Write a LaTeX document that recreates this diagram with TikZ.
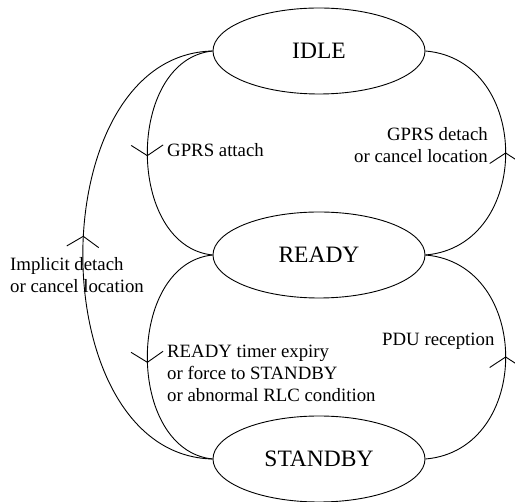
\documentclass[tikz,border=0pt]{standalone}
\usepackage{fontspec}
\setmainfont{Liberation Serif}
\usetikzlibrary{shapes.geometric,decorations.markings}
\tikzset{
  statebox/.style={ellipse, draw, line width=0.9pt, minimum width=212pt, minimum height=86pt, inner sep=0pt, font=\fontsize{23.5}{28}\selectfont},
  lbl/.style={inner sep=0pt, font=\fontsize{18.8}{22.4}\selectfont},
  trans/.style={line width=0.9pt, postaction={decorate}, decoration={markings, mark=at position #1 with {\draw[line width=0.9pt] (-10.5pt,16pt) -- (0pt,0pt) -- (-10.5pt,-16pt);}}},
  trans/.default=0.5
}
\begin{document}
\begin{tikzpicture}[x=1pt,y=-1pt]
\useasboundingbox (0,0) rectangle (515,502);
\node[statebox] (idle) at (319,51) {IDLE};
\node[statebox] (ready) at (319,255) {READY};
\node[statebox] (standby) at (319,459) {STANDBY};
% transitions
\draw[trans=0.51] (idle.west) .. controls +(-87,9) and +(-87,-9) .. (ready.west);
\draw[trans] (ready.east) .. controls +(107,-9) and +(107,9) .. (idle.east);
\draw[trans=0.52] (ready.west) .. controls +(-87,9) and +(-87,-9) .. (standby.west);
\draw[trans] (standby.east) .. controls +(107,-9) and +(107,9) .. (ready.east);
\draw[trans=0.535] (standby.west) .. controls +(-173,-4) and +(-173,4) .. (idle.west);
% labels
\node[lbl, anchor=base west] (la) at (167,157) {GPRS attach};
\node[lbl, anchor=base east, align=right] (ld) at (488,163) {GPRS detach\\or cancel location};
\node[lbl, anchor=base west, align=left] (li) at (10,293) {Implicit detach\\or cancel location};
\node[lbl, anchor=base west, align=left] (lr) at (167,402) {READY timer expiry\\or force to STANDBY\\or abnormal RLC condition};
\node[lbl, anchor=base west] (lp) at (382,345.5) {PDU reception};
\end{tikzpicture}
\end{document}
